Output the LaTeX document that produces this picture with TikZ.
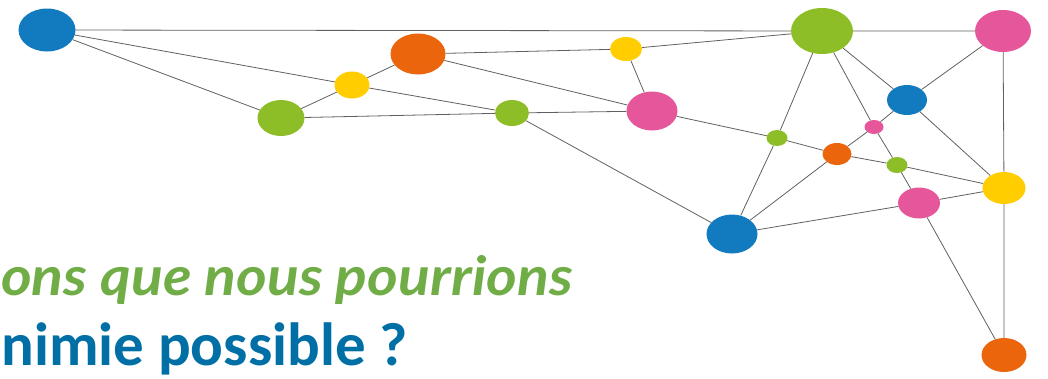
\documentclass[tikz,border=0pt]{standalone}
\usepackage{fontspec}
\usetikzlibrary{shapes.geometric}
\newfontfamily\blueFont{Carlito}
\newfontfamily\greenFont{Lato}
\definecolor{nblue}{HTML}{127BBF}
\definecolor{norange}{HTML}{EA650C}
\definecolor{nyellow}{HTML}{FFCD00}
\definecolor{ngreen}{HTML}{8EBE27}
\definecolor{npink}{HTML}{E6569A}
\definecolor{tgreen}{HTML}{70AD47}
\definecolor{tblue}{HTML}{006FA5}
\definecolor{edgegray}{HTML}{606060}
\tikzset{
  dot/.style args={#1/#2/#3}{ellipse, draw=none, fill=#1, minimum width=#2pt, minimum height=#3pt, inner sep=0pt},
  link/.style={draw=edgegray, line width=0.8pt}
}
\begin{document}
\begin{tikzpicture}[x=1pt,y=-1pt]
\useasboundingbox (0,0) rectangle (1048,378);
\node[dot=nblue/57/43]   (A) at (47,30) {};
\node[dot=norange/55/41] (B) at (418,54) {};
\node[dot=nyellow/35/27] (C) at (352,85) {};
\node[dot=ngreen/47/36]  (D) at (281,118) {};
\node[dot=ngreen/34/26]  (E) at (512,113) {};
\node[dot=nyellow/32/24] (F) at (626,49) {};
\node[dot=ngreen/62/46]  (G) at (822,31) {};
\node[dot=npink/56/42]   (H) at (1003,31) {};
\node[dot=npink/51/39]   (I) at (652,111) {};
\node[dot=nblue/40/30]   (J) at (907,100) {};
\node[dot=npink/19/14]   (K) at (874,127) {};
\node[dot=ngreen/21/16]  (L) at (777,138) {};
\node[dot=norange/29/22] (M) at (837,154) {};
\node[dot=ngreen/21/16]  (N) at (897,165) {};
\node[dot=nyellow/43/32] (O) at (1004,188) {};
\node[dot=npink/42/31]   (P) at (919,203) {};
\node[dot=nblue/51/39]   (Q) at (732,234) {};
\node[dot=norange/45/34] (R) at (1004,355) {};
\path[link] (A) -- (G) (A) -- (C) (A) -- (D) (D) -- (C) (C) -- (B) (C) -- (E) (D) -- (E)
  (B) -- (F) (B) -- (I) (F) -- (G) (F) -- (I) (E) -- (I) (E) -- (Q)
  (G) -- (H) (G) -- (L) (L) -- (Q) (G) -- (K) (K) -- (N) (N) -- (P) (G) -- (J)
  (J) -- (H) (J) -- (K) (K) -- (M) (J) -- (O) (H) -- (O)
  (I) -- (L) (L) -- (M) (M) -- (N) (N) -- (O) (M) -- (Q) (Q) -- (P) (P) -- (O)
  (P) -- (R) (O) -- (R);
\node[anchor=base east, inner sep=0pt, xscale=1.09, text=tgreen, font={\greenFont\bfseries\itshape\fontsize{54}{64}\selectfont}] (T1) at (573,295) {ons que nous pourrions};
\node[anchor=base east, inner sep=0pt, text=tblue, font={\blueFont\bfseries\fontsize{61}{72}\selectfont}] (T2) at (408,365) {nimie possible ?};
\end{tikzpicture}
\end{document}
